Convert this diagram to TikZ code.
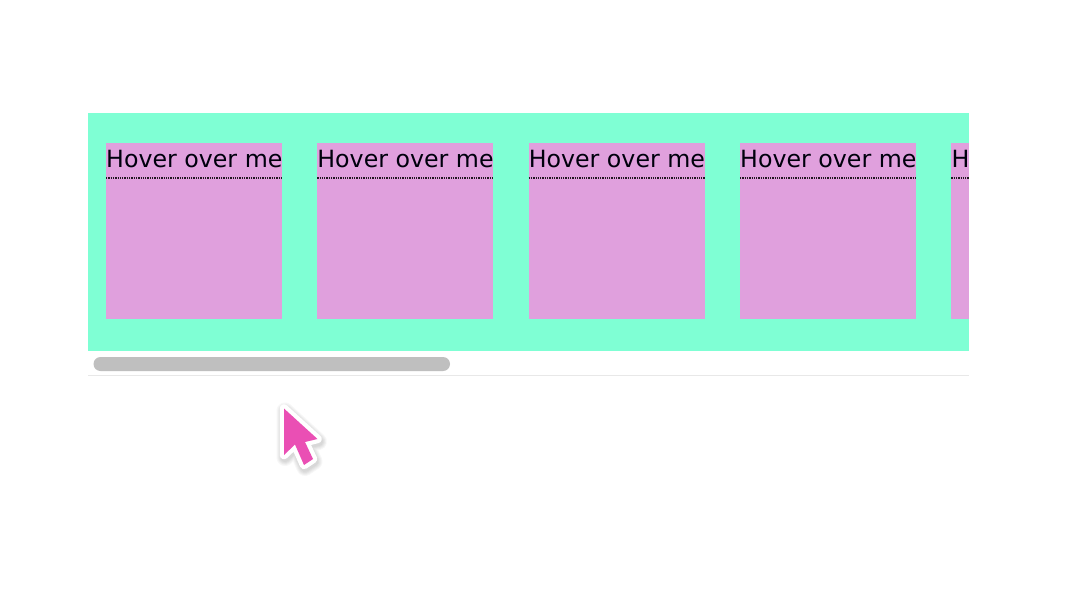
\documentclass[tikz,border=0pt]{standalone}
\usepackage{fontspec}
\setmainfont{DejaVu Sans}
\definecolor{aqua}{HTML}{7FFFD4}
\definecolor{plum}{HTML}{E0A0DD}
\definecolor{thumb}{HTML}{BFBFBF}
\definecolor{rulegray}{HTML}{E8E8E8}
\definecolor{hotpink}{HTML}{EA4FB4}
\tikzset{
  cardbox/.style={fill=plum,draw=none,minimum width=176pt,minimum height=176pt,inner sep=0pt,anchor=north west},
  cardlabel/.style={inner sep=0pt,anchor=base west,font=\fontsize{23.7pt}{26pt}\selectfont,text=black!95!blue},
  tipline/.style={black!85!plum,line width=1.3pt,dash pattern=on 1.3pt off 1pt},
  halo/.style={black,opacity=.03,line join=round,line width=#1}
}
\newcommand{\cursorpath}{(284,408.5) -- (317.5,439) -- (305,442) -- (313,459) -- (304,465) -- (295,444.5) -- (284,455) -- cycle}
\begin{document}
\begin{tikzpicture}[x=1pt,y=-1pt]
\useasboundingbox (0,0) rectangle (1080,608);
\fill[white] (0,0) rectangle (1080,608);
\fill[aqua] (88,113) rectangle (969,351);
\foreach \n/\x in {1/106,2/317.2,3/528.6,4/740}{
  \node[cardbox] (card\n) at (\x,143) {};
  \node[cardlabel] (label\n) at (\x,167) {Hover over me};
  \draw[tipline] (\x,178) -- (\x+176,178);
}
\fill[plum] (951.3,143) rectangle (969,319);
\node[cardlabel] (label5) at (951.3,167) {H};
\draw[tipline] (951.3,178) -- (969,178);
\fill[thumb,rounded corners=7pt] (93.5,357) rectangle (450,371);
\draw[rulegray,line width=1pt] (88,375.5) -- (969,375.5);
% cursor shadow, soft layers offset down and to the right
\begin{scope}[shift={(1,2.5)}]
  \foreach \w in {17,15,13,11,9}{
    \draw[halo=\w pt,fill=black,fill opacity=.02] \cursorpath;
  }
\end{scope}
\path[fill=white,draw=white,line width=8.5pt,line join=round] \cursorpath;
\fill[hotpink] \cursorpath;
\end{tikzpicture}
\end{document}
